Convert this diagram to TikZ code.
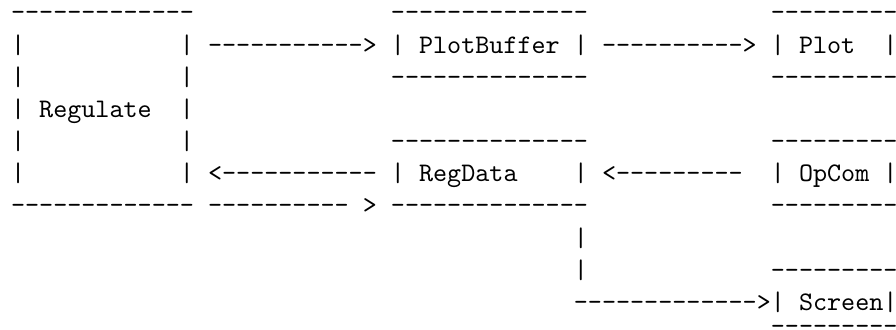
\documentclass[tikz,border=0pt]{standalone}
\usepackage{fontspec}
\tikzset{txt/.style={font=\ttfamily, inner sep=0pt, anchor=base west}}

\begin{document}
\begin{tikzpicture}[x=5.25pt,y=12pt]
  \useasboundingbox (-0.747,0.65) rectangle (62.93,-9.58);

  % Regulate
  \node[txt] (regTop) at (0,0) {-------------};
  \foreach \r in {1,2,4,5} {
    \node[txt] (regL\r) at (0,-\r) {|};
    \node[txt] (regR\r) at (12,-\r) {|};
  }
  \node[txt] (reg) at (0,-3) {| Regulate};
  \node[txt] (regR3) at (12,-3) {|};
  \node[txt] (regBot) at (0,-6) {-------------};

  % PlotBuffer
  \node[txt] (pbTop) at (27,0) {--------------};
  \node[txt] (pb) at (27,-1) {| PlotBuffer |};
  \node[txt] (pbBot) at (27,-2) {--------------};

  % Plot
  \node[txt] (plTop) at (54,0) {---------};
  \node[txt] (pl) at (54,-1) {| Plot};
  \node[txt] (plR) at (62,-1) {|};
  \node[txt] (plBot) at (54,-2) {---------};

  % RegData
  \node[txt] (rdTop) at (27,-4) {--------------};
  \node[txt] (rd) at (27,-5) {| RegData};
  \node[txt] (rdR) at (40,-5) {|};
  \node[txt] (rdBot) at (27,-6) {--------------};

  % OpCom
  \node[txt] (ocTop) at (54,-4) {---------};
  \node[txt] (oc) at (54,-5) {| OpCom |};
  \node[txt] (ocBot) at (54,-6) {---------};

  % Screen
  \node[txt] (scTop) at (54,-8) {---------};
  \node[txt] (sc) at (54,-9) {| Screen|};
  \node[txt] (scBot) at (54,-9.75) {---------};

  % arrows
  \node[txt] (regToPb) at (14,-1) {----------->};
  \node[txt] (pbToPl) at (42,-1) {---------->};
  \node[txt] (rdToReg) at (14,-5) {<-----------};
  \node[txt] (ocToRd) at (42,-5) {<---------};
  \node[txt] (regToRd) at (14,-6) {----------};
  \node[txt] (regToRdTip) at (25,-6) {>};
  \node[txt] (rdDown1) at (40,-7) {|};
  \node[txt] (rdDown2) at (40,-8) {|};
  \node[txt] (rdToSc) at (40,-9) {------------->};
\end{tikzpicture}
\end{document}
